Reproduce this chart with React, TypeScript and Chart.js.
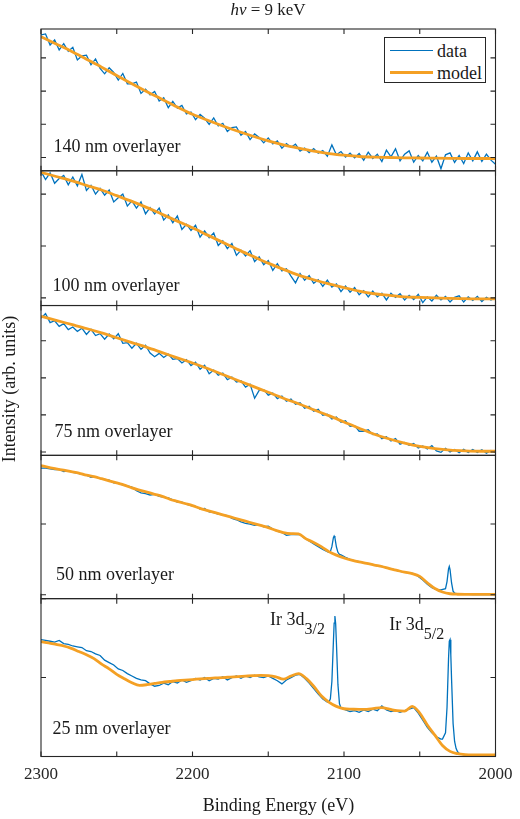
import React, { useEffect, useRef } from 'react';
import { Chart, registerables } from 'chart.js';

Chart.register(...registerables);

const FONT = '"Liberation Serif", "Times New Roman", serif';
const BLUE = '#0072BD';
const ORANGE = '#F4A024';
const INK = '#262626';

Chart.defaults.font.family = FONT;

// Binding energy grid of the measured spectra (eV)
const gridE = [
  2300, 2297, 2294, 2291, 2288, 2285, 2282, 2279, 2276, 2273,
  2270, 2267, 2264, 2261, 2258, 2255, 2252, 2249, 2246, 2243,
  2240, 2237, 2234, 2231, 2228, 2225, 2222, 2219, 2216, 2213,
  2210, 2207, 2204, 2201, 2198, 2195, 2192, 2189, 2186, 2183,
  2180, 2177, 2174, 2171, 2168, 2165, 2162, 2159, 2156, 2153,
  2150, 2147, 2144, 2141, 2138, 2135, 2132, 2129, 2126, 2123,
  2120, 2117, 2114, 2111, 2108, 2105, 2102, 2099, 2096, 2093,
  2090, 2087, 2084, 2081, 2078, 2075, 2072, 2069, 2066, 2063,
  2060, 2057, 2054, 2051, 2048, 2045, 2042, 2039, 2036, 2033,
  2030, 2027, 2024, 2021, 2018, 2015, 2012, 2009, 2006, 2003,
  2000,
];

// Model energy grids (eV)
const modelE10 = [
  2300, 2290, 2280, 2270, 2260, 2250, 2240, 2230, 2220, 2210,
  2200, 2190, 2180, 2170, 2160, 2150, 2140, 2130, 2120, 2110,
  2100, 2090, 2080, 2070, 2060, 2050, 2040, 2030, 2020, 2010,
  2000,
];
const modelE5 = [
  2300, 2295, 2290, 2285, 2280, 2275, 2270, 2265, 2260, 2255,
  2250, 2245, 2240, 2235, 2230, 2225, 2220, 2215, 2210, 2205,
  2200, 2195, 2190, 2185, 2180, 2175, 2170, 2165, 2160, 2155,
  2150, 2145, 2140, 2135, 2130, 2125, 2120, 2115, 2110, 2105,
  2100, 2095, 2090, 2085, 2080, 2075, 2070, 2065, 2060, 2055,
  2050, 2045, 2040, 2035, 2030, 2025, 2020, 2015, 2010, 2005,
  2000,
];

// 140 nm overlayer
const data140 = [
  3.69, 3.72, 3.39, 3.54, 3.24, 3.43, 3.20, 3.32, 2.94, 3.06,
  3.08, 2.79, 2.97, 2.68, 2.52, 2.70, 2.56, 2.33, 2.53, 2.22,
  2.22, 2.27, 1.93, 2.06, 1.89, 1.99, 1.70, 1.80, 1.50, 1.69,
  1.49, 1.57, 1.31, 1.37, 1.14, 1.30, 1.18, 1.00, 1.19, 0.95,
  1.03, 0.78, 0.90, 0.92, 0.67, 0.78, 0.54, 0.71, 0.60, 0.44,
  0.59, 0.41, 0.50, 0.28, 0.42, 0.31, 0.40, 0.19, 0.28, 0.15,
  0.27, 0.13, 0.21, 0.04, 0.38, 0.08, 0.18, 0.01, 0.13, -0.01,
  0.12, -0.08, 0.16, -0.03, 0.10, -0.12, 0.22, 0.02, 0.26, -0.10,
  0.10, 0.20, -0.14, 0.06, -0.10, 0.16, -0.14, 0.04, -0.34, 0.08,
  0.14, -0.15, 0.06, -0.18, 0.14, -0.10, 0.17, -0.12, 0.10, -0.08,
  -0.20,
];
const model140 = [
  3.64, 3.42, 3.20, 2.96, 2.72, 2.47, 2.22, 1.98, 1.75, 1.52,
  1.30, 1.12, 0.95, 0.79, 0.64, 0.50, 0.38, 0.28, 0.19, 0.12,
  0.07, 0.03, 0.01, 0.00, -0.01, -0.015, -0.02, -0.025, -0.03, -0.03,
  -0.03,
];

// 100 nm overlayer
const data100 = [
  2.44, 2.28, 2.41, 2.21, 2.30, 2.36, 2.18, 2.33, 2.16, 2.38,
  2.07, 2.17, 2.00, 2.11, 1.98, 2.08, 1.85, 1.93, 2.00, 1.77,
  1.87, 1.73, 1.85, 1.62, 1.74, 1.62, 1.73, 1.50, 1.60, 1.45,
  1.58, 1.32, 1.42, 1.30, 1.40, 1.17, 1.29, 1.16, 1.25, 1.01,
  1.10, 0.95, 1.05, 0.82, 0.92, 0.81, 0.91, 0.70, 0.79, 0.64,
  0.72, 0.53, 0.66, 0.52, 0.56, 0.42, 0.29, 0.47, 0.34, 0.43,
  0.28, 0.35, 0.22, 0.34, 0.21, 0.27, 0.12, 0.23, 0.11, 0.20,
  0.06, 0.14, 0.02, 0.13, 0.02, 0.09, -0.04, 0.09, 0.01, 0.08,
  -0.04, 0.05, -0.03, 0.07, -0.09, 0.02, -0.06, 0.05, -0.04, 0.03,
  -0.08, 0.01, 0.04, -0.08, 0.02, -0.05, 0.03, -0.07, 0.01, -0.04,
  0.00,
];
const model100 = [
  2.42, 2.34, 2.26, 2.17, 2.08, 1.97, 1.86, 1.74, 1.61, 1.48,
  1.35, 1.21, 1.07, 0.93, 0.80, 0.67, 0.55, 0.44, 0.35, 0.27,
  0.20, 0.13, 0.08, 0.05, 0.02, 0.01, 0.00, -0.01, -0.015, -0.02,
  -0.02,
];

// 75 nm overlayer
const data75 = [
  3.61, 3.73, 3.49, 3.54, 3.39, 3.46, 3.30, 3.37, 3.25, 3.34,
  3.17, 3.31, 3.14, 3.19, 3.04, 3.18, 3.05, 3.19, 2.93, 2.95,
  2.80, 2.93, 2.77, 2.88, 2.67, 2.57, 2.66, 2.55, 2.64, 2.50,
  2.52, 2.40, 2.49, 2.33, 2.42, 2.23, 2.34, 2.11, 2.21, 2.07,
  2.13, 1.95, 2.02, 1.89, 1.92, 1.75, 1.83, 1.45, 1.66, 1.68,
  1.53, 1.59, 1.44, 1.51, 1.37, 1.43, 1.29, 1.33, 1.18, 1.23,
  1.10, 1.15, 0.99, 1.02, 0.89, 0.94, 0.80, 0.84, 0.69, 0.71,
  0.56, 0.56, 0.60, 0.47, 0.49, 0.36, 0.41, 0.30, 0.36, 0.21,
  0.26, 0.18, 0.23, 0.11, 0.16, 0.08, 0.17, 0.03, -0.01, 0.10,
  0.00, 0.07, -0.02, 0.07, -0.01, 0.07, -0.01, 0.06, -0.03, 0.04,
  -0.02,
];
const model75 = [
  3.66, 3.55, 3.44, 3.33, 3.21, 3.08, 2.95, 2.82, 2.68, 2.54,
  2.40, 2.25, 2.09, 1.93, 1.77, 1.61, 1.45, 1.30, 1.14, 0.98,
  0.81, 0.64, 0.48, 0.35, 0.24, 0.15, 0.09, 0.05, 0.03, 0.02,
  0.02,
];

// 50 nm overlayer
const data50 = [
  1.79, 1.79, 1.78, 1.77, 1.77, 1.74, 1.75, 1.73, 1.72, 1.70,
  1.69, 1.66, 1.67, 1.64, 1.63, 1.62, 1.58, 1.58, 1.55, 1.54,
  1.52, 1.47, 1.44, 1.43, 1.41, 1.42, 1.39, 1.38, 1.37, 1.34,
  1.31, 1.31, 1.28, 1.26, 1.25, 1.21, 1.22, 1.17, 1.16, 1.14,
  1.13, 1.12, 1.08, 1.06, 1.03, 1.01, 1.00, 0.98, 0.99, 0.96,
  0.97, 0.93, 0.90, 0.88, 0.84, 0.85, 0.855, 0.85, 0.80, 0.76,
  0.72, 0.68, 0.64, 0.61, 0.68, 0.675, 0.565, 0.53, 0.50, 0.48,
  0.47, 0.45, 0.44, 0.425, 0.41, 0.40, 0.38, 0.37, 0.35, 0.33,
  0.32, 0.31, 0.30, 0.26, 0.21, 0.15, 0.10, 0.075, 0.07, 0.087,
  0.355, 0.022, 0.01, 0.005, 0.008, 0.004, 0.007, 0.003, 0.006, 0.004,
  0.008,
];
const peakE50 = [2110, 2109, 2107, 2106.5, 2106, 2104, 2103, 2032, 2031, 2030.5, 2029, 2028];
const peakI50 = [0.60, 0.61, 0.806, 0.83, 0.806, 0.60, 0.57, 0.187, 0.365, 0.40, 0.167, 0.052];
const model50 = [
  1.825, 1.80, 1.78, 1.76, 1.74, 1.72, 1.69, 1.67, 1.64, 1.61,
  1.58, 1.55, 1.51, 1.48, 1.45, 1.42, 1.39, 1.35, 1.32, 1.29,
  1.26, 1.22, 1.19, 1.16, 1.13, 1.10, 1.07, 1.04, 1.01, 0.98,
  0.95, 0.91, 0.88, 0.865, 0.86, 0.79, 0.74, 0.68, 0.61, 0.56,
  0.52, 0.49, 0.465, 0.445, 0.42, 0.40, 0.37, 0.345, 0.32, 0.30,
  0.26, 0.17, 0.09, 0.04, 0.015, 0.008, 0.006, 0.006, 0.006, 0.006,
  0.006,
];

// 25 nm overlayer
const data25 = [
  1.48, 1.47, 1.46, 1.45, 1.47, 1.43, 1.42, 1.40, 1.39, 1.38,
  1.34, 1.33, 1.30, 1.28, 1.22, 1.19, 1.16, 1.11, 1.09, 1.05,
  1.02, 0.99, 0.97, 0.96, 0.92, 0.89, 0.90, 0.93, 0.91, 0.95,
  0.93, 0.97, 0.94, 0.96, 0.99, 0.97, 1.00, 0.96, 0.99, 0.98,
  1.01, 0.97, 1.00, 1.02, 0.99, 1.02, 1.00, 1.03, 1.01, 1.00,
  1.02, 0.99, 0.96, 0.92, 0.97, 1.00, 1.03, 1.04, 0.99, 0.93,
  0.86, 0.79, 0.73, 0.69, 0.95, 1.435, 0.615, 0.59, 0.57, 0.58,
  0.56, 0.59, 0.57, 0.60, 0.58, 0.64, 0.59, 0.57, 0.58, 0.56,
  0.58, 0.60, 0.62, 0.55, 0.46, 0.37, 0.30, 0.25, 0.22, 0.30,
  1.48, 0.19, 0.04, 0.02, 0.015, 0.02, 0.01, 0.02, 0.015, 0.01,
  0.02,
];
const peakE25 = [2110, 2109, 2107, 2106.5, 2106, 2105.5, 2104, 2103, 2035, 2032, 2031, 2030.5, 2029.5, 2029, 2028, 2026, 2025];
const peakI25 = [0.69, 0.73, 1.45, 1.69, 1.78, 1.68, 0.91, 0.67, 0.22, 0.62, 1.24, 1.46, 1.29, 0.98, 0.42, 0.10, 0.06];
const model25 = [
  1.455, 1.44, 1.42, 1.40, 1.37, 1.33, 1.29, 1.24, 1.17, 1.11,
  1.04, 0.985, 0.935, 0.902, 0.91, 0.925, 0.94, 0.95, 0.96, 0.968,
  0.975, 0.983, 0.99, 0.995, 1.00, 1.006, 1.012, 1.018, 1.024, 1.028,
  1.025, 1.01, 0.98, 1.02, 1.05, 0.99, 0.89, 0.77, 0.69, 0.635,
  0.605, 0.600, 0.597, 0.598, 0.610, 0.618, 0.600, 0.58, 0.575, 0.634,
  0.55, 0.40, 0.27, 0.14, 0.065, 0.035, 0.023, 0.02, 0.02, 0.02,
  0.02,
];

const panelLabels = ['140 nm overlayer', '100 nm overlayer', '75 nm overlayer', '50 nm overlayer', '25 nm overlayer'];
const panelMin = [-0.40, -0.147, -0.09, -0.054, 0];
const panelMax = [3.87, 2.45, 3.95, 1.97, 2.0];
const panelTicks = [[0, 1, 2, 3], [0, 1, 2], [0, 1, 2, 3], [0, 1], [0, 1, 2]];
const panelWeights = [141, 134, 149, 142.5, 157];

type Pt = { x: number; y: number };
const pts = (xs: number[], ys: number[]): Pt[] => xs.map((x, i) => ({ x, y: ys[i] }));
const merge = (a: Pt[], b: Pt[]): Pt[] => a.concat(b).sort((p, q) => q.x - p.x);

const panels = [
  { data: pts(gridE, data140), model: pts(modelE10, model140) },
  { data: pts(gridE, data100), model: pts(modelE10, model100) },
  { data: pts(gridE, data75), model: pts(modelE10, model75) },
  { data: merge(pts(gridE, data50), pts(peakE50, peakI50)), model: pts(modelE5, model50) },
  { data: merge(pts(gridE, data25), pts(peakE25, peakI25)), model: pts(modelE5, model25) },
];

const TICK = 5;

const framePlugin = {
  id: 'panelFrames',
  afterDatasetsDraw(chart: any) {
    const { ctx, chartArea, scales } = chart;
    const xs = scales.x;
    const left = chartArea.left;
    const right = chartArea.right;
    ctx.save();
    ctx.strokeStyle = INK;
    ctx.lineWidth = 1.1;
    panels.forEach((_p, i) => {
      const ys = scales['y' + i];
      const top = ys.top;
      const bottom = ys.bottom;
      ctx.strokeRect(left, top, right - left, bottom - top);
      ctx.beginPath();
      xs.ticks.forEach((t: any) => {
        const x = xs.getPixelForValue(t.value);
        ctx.moveTo(x, top);
        ctx.lineTo(x, top + TICK);
        ctx.moveTo(x, bottom);
        ctx.lineTo(x, bottom - TICK);
      });
      ys.ticks.forEach((t: any) => {
        const y = ys.getPixelForValue(t.value);
        ctx.moveTo(left, y);
        ctx.lineTo(left + TICK, y);
        ctx.moveTo(right, y);
        ctx.lineTo(right - TICK, y);
      });
      ctx.stroke();
    });
    ctx.restore();
  },
};

export default function App() {
  const ref = useRef<HTMLCanvasElement | null>(null);

  useEffect(() => {
    if (!ref.current) return;
    const scales: any = {
      x: {
        type: 'linear',
        position: 'bottom',
        min: 2000,
        max: 2300,
        reverse: true,
        grid: { display: false, drawTicks: false },
        border: { display: false },
        ticks: {
          stepSize: 50,
          autoSkip: false,
          maxRotation: 0,
          padding: 7.5,
          color: INK,
          font: { family: FONT, size: 17 },
          callback: (v: any) => (Number(v) % 100 === 0 ? String(v) : ''),
        },
      },
    };
    const datasets: any[] = [];
    panels.forEach((p, i) => {
      scales['y' + i] = {
        type: 'linear',
        position: 'right',
        stack: 'panels',
        stackWeight: panelWeights[i],
        min: panelMin[i],
        max: panelMax[i],
        display: false,
        afterBuildTicks: (s: any) => {
          s.ticks = panelTicks[i].map((v) => ({ value: v }));
        },
      };
      datasets.push({
        label: 'model',
        data: p.model,
        xAxisID: 'x',
        yAxisID: 'y' + i,
        borderColor: ORANGE,
        backgroundColor: ORANGE,
        borderWidth: 2.8,
        pointRadius: 0,
        cubicInterpolationMode: 'monotone',
        order: 0,
      });
      datasets.push({
        label: 'data',
        data: p.data,
        xAxisID: 'x',
        yAxisID: 'y' + i,
        borderColor: BLUE,
        backgroundColor: BLUE,
        borderWidth: 1.3,
        pointRadius: 0,
        tension: 0,
        order: 1,
      });
    });

    const chart = new Chart(ref.current, {
      type: 'line',
      data: { datasets },
      options: {
        responsive: false,
        maintainAspectRatio: false,
        animation: false,
        devicePixelRatio: 1,
        events: [],
        layout: { padding: { left: 41, right: 21.7, top: 29, bottom: 27.1 } },
        plugins: { legend: { display: false }, tooltip: { enabled: false }, title: { display: false } },
        scales,
      },
      plugins: [framePlugin],
    } as any);
    return () => chart.destroy();
  }, []);

  const text: React.CSSProperties = {
    position: 'absolute',
    fontFamily: FONT,
    fontSize: 18,
    lineHeight: '18px',
    color: '#1a1a1a',
    whiteSpace: 'nowrap',
  };
  const labelTops = [136.7, 275.7, 421.7, 565, 719];
  const labelLefts = [53.5, 52.5, 54.5, 56, 52.5];

  return (
    <div style={{ position: 'absolute', left: 0, top: 0, width: 520, height: 819, background: '#fff', overflow: 'hidden' }}>
      <canvas ref={ref} width={520} height={819} style={{ position: 'absolute', left: 0, top: 0, width: 520, height: 819 }} />
      <div style={{ ...text, fontSize: 17, lineHeight: '17px', left: 168, top: 1.3, width: 200, textAlign: 'center' }}>
        <i>hν</i> = 9 keV
      </div>
      {panelLabels.map((t, i) => (
        <div key={t} style={{ ...text, left: labelLefts[i], top: labelTops[i] }}>{t}</div>
      ))}
      <div style={{ ...text, left: 270, top: 610 }}>
        Ir 3d<span style={{ fontSize: 16, position: 'relative', top: 9 }}>3/2</span>
      </div>
      <div style={{ ...text, left: 389.3, top: 615 }}>
        Ir 3d<span style={{ fontSize: 16, position: 'relative', top: 9 }}>5/2</span>
      </div>
      <div style={{ position: 'absolute', left: 384, top: 37, width: 102, height: 46, border: `1px solid ${INK}`, background: '#fff', boxSizing: 'border-box' }}>
        <div style={{ position: 'absolute', left: 5, top: 12, width: 43, height: 1.3, background: BLUE }} />
        <div style={{ position: 'absolute', left: 5, top: 33, width: 43, height: 3, background: ORANGE }} />
        <div style={{ ...text, left: 52, top: 4 }}>data</div>
        <div style={{ ...text, left: 52, top: 25.5 }}>model</div>
      </div>
      <div style={{ ...text, left: 178.5, top: 796, width: 200, textAlign: 'center' }}>Binding Energy (eV)</div>
      <div style={{ ...text, left: 9.3 - 110, top: 389 - 9, width: 220, textAlign: 'center', transform: 'rotate(-90deg)', transformOrigin: '50% 50%' }}>
        Intensity (arb. units)
      </div>
    </div>
  );
}
